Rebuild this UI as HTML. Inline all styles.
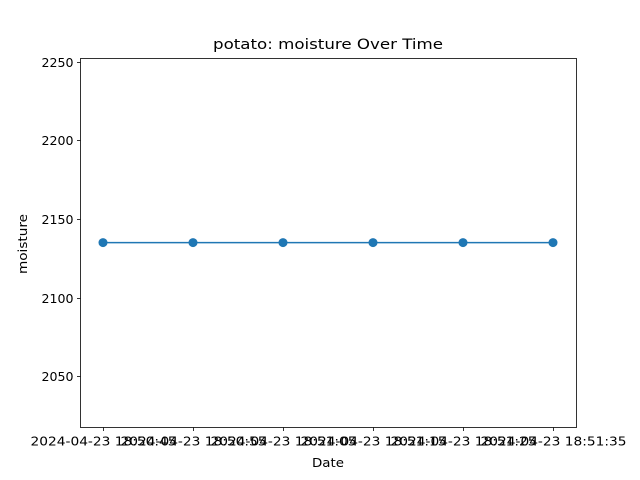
<!DOCTYPE html>
<html><head><meta charset="utf-8"><style>
body{margin:0;background:#fff}
svg{display:block;font-family:"DejaVu Sans","Liberation Sans",sans-serif}
</style></head><body>
<svg id="chart" width="640" height="480">
<text x="328" y="49" font-size="14.4" text-anchor="middle" textLength="230" lengthAdjust="spacingAndGlyphs">potato: moisture Over Time</text>
<text x="328" y="467" font-size="12" text-anchor="middle" textLength="32" lengthAdjust="spacingAndGlyphs">Date</text>
<text transform="translate(27,244) rotate(-90)" font-size="12" text-anchor="middle" textLength="60" lengthAdjust="spacingAndGlyphs">moisture</text>
</svg>
<script>
const categories=["2024-04-23 18:50:45","2024-04-23 18:50:55","2024-04-23 18:51:05","2024-04-23 18:51:15","2024-04-23 18:51:25","2024-04-23 18:51:35"];
const moisture=[2135,2135,2135,2135,2135,2135];
const yTicks=[2050,2100,2150,2200,2250];
const NS="http://www.w3.org/2000/svg";
const svg=document.getElementById('chart');
const L=80.5,R=576.5,T=58.5,B=427.5;
const yMin=2017.5,yMax=2252;
const x=i=>103+i*90;
const y=v=>B-(v-yMin)/(yMax-yMin)*(B-T);
function mk(t,a){const e=document.createElementNS(NS,t);for(const k in a)e.setAttribute(k,a[k]);svg.appendChild(e);return e;}
const frame=mk('rect',{x:L,y:T,width:R-L,height:B-T,fill:'none',stroke:'#000','stroke-width':0.8});


yTicks.forEach(v=>{
  const yy=Math.round(y(v))+0.5;
  const tk=mk('line',{x1:L-3.5,x2:L,y1:yy,y2:yy,stroke:'#000','stroke-width':0.8});
  
  
  const t=mk('text',{x:L-7,y:yy+4.5,'font-size':12,'text-anchor':'end',textLength:32,lengthAdjust:'spacingAndGlyphs'});
  t.textContent=v;
  
  
});
categories.forEach((c,i)=>{
  const xx=x(i)+0.5;
  const tk=mk('line',{x1:xx,x2:xx,y1:B,y2:B+3.5,stroke:'#000','stroke-width':0.8});
  
  
  const t=mk('text',{x:xx,y:B+18,'font-size':12,'text-anchor':'middle',textLength:146,lengthAdjust:'spacingAndGlyphs'});
  t.textContent=c;
  
  
});
const pts=moisture.map((v,i)=>x(i)+','+y(v)).join(' ');
const line=mk('polyline',{points:pts,fill:'none',stroke:'#1f77b4','stroke-width':1.5});


moisture.forEach((v,i)=>{
  const c=mk('circle',{cx:x(i),cy:y(v),r:4.5,fill:'#1f77b4'});
  
  
});
</script>
</body></html>
